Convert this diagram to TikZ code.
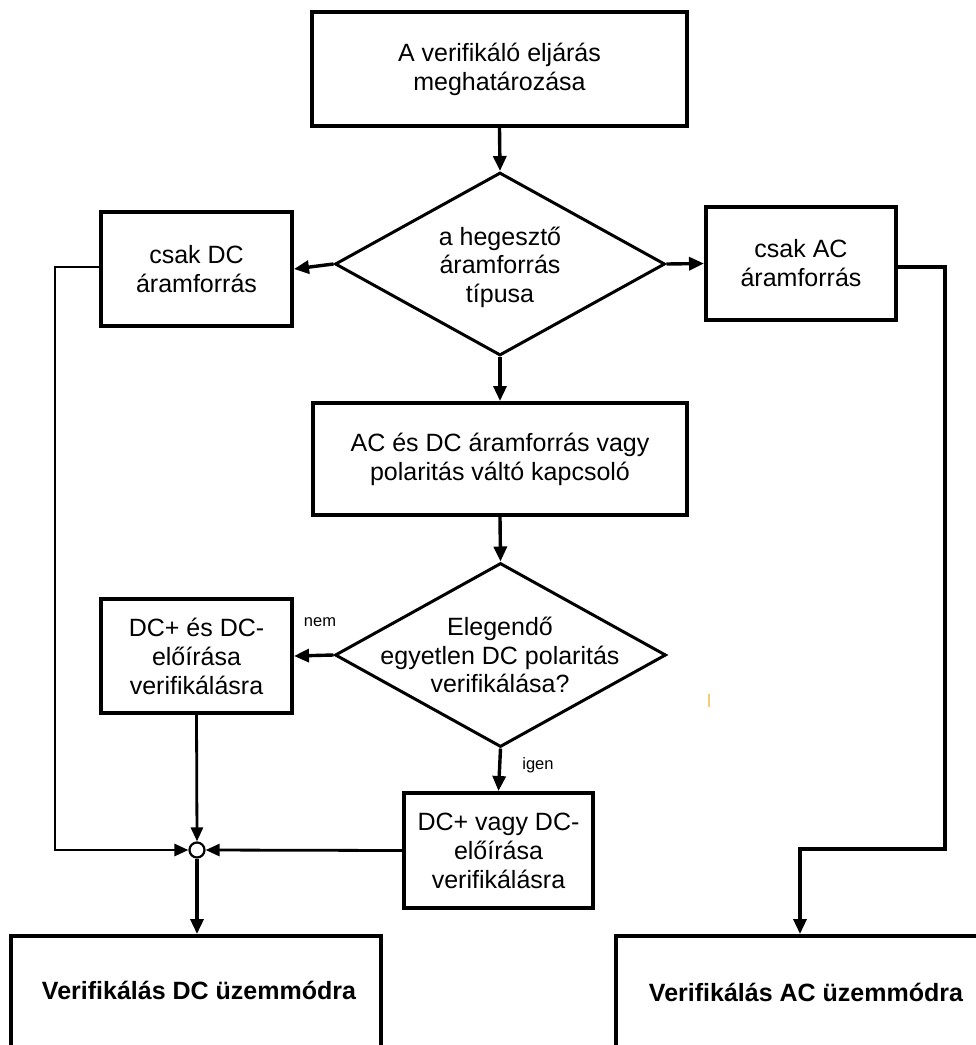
\documentclass[tikz,border=0pt]{standalone}
\usepackage{fontspec}
\setmainfont{Liberation Sans}
\usetikzlibrary{shapes.geometric,arrows.meta}

\tikzset{
  proc/.style={draw, line width=4pt, rectangle, align=center, inner sep=0pt,
    font=\fontsize{25pt}{29pt}\selectfont},
  decision/.style={draw, line width=3pt, diamond, inner sep=0pt},
  dtext/.style={align=center, inner sep=0pt, font=\fontsize{25pt}{28.5pt}\selectfont},
  modetext/.style={inner sep=0pt, font=\fontsize{25pt}{29pt}\selectfont\bfseries},
  small/.style={inner sep=0pt, font=\fontsize{16.5pt}{19pt}\selectfont},
  flow/.style={line width=3.4pt, -{Triangle[length=15pt,width=13pt]}},
  thinflow/.style={line width=2.8pt, -{Triangle[length=14pt,width=12pt]}},
  joint/.style={draw, circle, line width=2.2pt, minimum size=15pt, inner sep=0pt, fill=white},
}

\begin{document}
\begin{tikzpicture}[x=1pt, y=-1pt]
  \useasboundingbox (0,0) rectangle (976,1045);
  \clip (0,0) rectangle (976,1045);

  % process boxes
  \node[proc, minimum width=375pt, minimum height=114pt] (start) at (499.5,69)
    {A verifikáló eljárás\\meghatározása};
  \node[proc, minimum width=191pt, minimum height=114pt] (dconly) at (196.5,269)
    {csak DC\\áramforrás};
  \node[proc, minimum width=190pt, minimum height=113pt] (aconly) at (801,263.5)
    {csak AC\\áramforrás};
  \node[proc, minimum width=374pt, minimum height=112pt] (acdc) at (500,459)
    {AC és DC áramforrás vagy\\polaritás váltó kapcsoló};
  \node[proc, minimum width=191pt, minimum height=114pt] (dcboth) at (196.5,656)
    {DC+ és DC-\\előírása\\verifikálásra};
  \node[proc, minimum width=189pt, minimum height=115pt] (dcone) at (498.5,850.5)
    {DC+ vagy DC-\\előírása\\verifikálásra};

  % decisions
  \node[decision, minimum width=330pt, minimum height=183pt] (type) at (500,264) {};
  \node[dtext] at (500,267) {a hegesztő\\áramforrás\\típusa};
  \node[decision, minimum width=331pt, minimum height=184pt] (single) at (500.5,655) {};
  \node[dtext] at (500,655) {Elegendő\\egyetlen DC polaritás\\verifikálása?};

  % result boxes (running off the lower edge)
  \node[proc, minimum width=370pt, minimum height=200pt, anchor=north] (dcmode) at (196,934) {};
  \node[modetext] at (199,990) {Verifikálás DC üzemmódra};
  \node[proc, minimum width=400pt, minimum height=200pt, anchor=north west] (acmode) at (614,934) {};
  \node[modetext] at (806,992) {Verifikálás AC üzemmódra};

  % junction
  \node[joint] (join) at (197,850) {};

  % branch labels
  \node[small] at (320,622) {nem};
  \node[small] at (538,765) {igen};

  % connectors
  \draw[flow] (start.south) -- (type.north);
  \draw[flow] (type.west) -- (dconly.east);
  \draw[flow] (type.east) -- (aconly.west);
  \draw[flow] (type.south) -- (acdc.north);
  \draw[flow] (acdc.south) -- (single.north);
  \draw[flow] (single.west) -- (dcboth.east);
  \draw[flow] (single.south) -- (dcone.north);
  \draw[thinflow] (dcboth.south) -- (join.north);
  \draw[thinflow] (dcone.west) -- (join.east);
  \coordinate (dcbend) at (55,267);
  \draw[thinflow] (dconly.west |- dcbend) -- (dcbend) |- (join.west);
  \draw[flow] (join.south) -- (join.south |- dcmode.north);
  \coordinate (acbend) at (945,849);
  \coordinate (acin) at (800,934);
  \draw[flow] (aconly.east |- 0,267) -| (acbend) -| (acin);

  % small stray mark
  \draw[line width=1.2pt, color={rgb,255:red,240;green,205;blue,120}] (709,694) -- (709,707);
\end{tikzpicture}
\end{document}
